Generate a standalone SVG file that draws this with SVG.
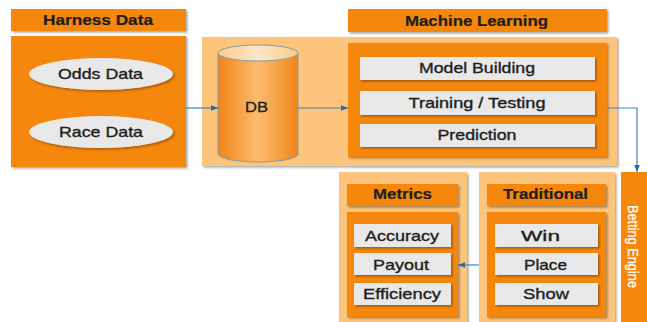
<svg xmlns="http://www.w3.org/2000/svg" width="647" height="322" viewBox="0 0 647 322">
<defs>
<style>
text{font-family:"Liberation Sans",Arial,sans-serif;font-size:15px;fill:#1e1e1e;stroke:#1e1e1e;stroke-width:0.35;text-anchor:middle}
.hd{font-weight:bold;stroke-width:0.2}
.org{fill:#F5870C}
.lt{fill:#FDC57C}
.gr{fill:#E8E8E8}
.sh{filter:url(#ds)}
.con{fill:none;stroke:#3A89B5;stroke-width:1.2}
text.wt{fill:#ffffff;stroke:#ffffff;stroke-width:0.25}
</style>
<filter id="ds" x="-10%" y="-10%" width="130%" height="140%">
<feDropShadow dx="1.5" dy="1.5" stdDeviation="0.8" flood-color="#000" flood-opacity="0.35"/>
</filter>
<linearGradient id="cyl" x1="0" y1="0" x2="1" y2="0">
<stop offset="0" stop-color="#F08518"/>
<stop offset="0.5" stop-color="#FBBB70"/>
<stop offset="1" stop-color="#F08518"/>
</linearGradient>
<linearGradient id="cyltop" x1="0" y1="0" x2="1" y2="0">
<stop offset="0" stop-color="#FBC98A"/>
<stop offset="0.5" stop-color="#FEE6C8"/>
<stop offset="1" stop-color="#FBC98A"/>
</linearGradient>
<marker id="ah" viewBox="0 0 10 10" refX="10" refY="5" markerWidth="7" markerHeight="7" orient="auto" markerUnits="userSpaceOnUse">
<path d="M0,1 L10,5 L0,9 z" fill="#1F6FA0"/>
</marker>
</defs>
<rect width="647" height="322" fill="#ffffff"/>

<g id="harness">
<rect class="org sh" x="11" y="9" width="175" height="22"/>
<text class="hd" x="98" y="25" textLength="110" lengthAdjust="spacingAndGlyphs">Harness Data</text>
<rect class="org sh" x="11" y="36" width="175" height="131"/>
<g id="odds">
<ellipse class="gr sh" cx="101" cy="74" rx="72" ry="16"/>
<text x="100.5" y="79" textLength="85" lengthAdjust="spacingAndGlyphs">Odds Data</text>
</g>
<g id="race">
<ellipse class="gr sh" cx="101" cy="132" rx="72" ry="16"/>
<text x="101" y="137" textLength="84" lengthAdjust="spacingAndGlyphs">Race Data</text>
</g>
</g>

<g id="ml-panel">
<rect class="lt sh" x="202" y="37" width="415" height="129"/>
</g>

<g id="db">
<path d="M218,53 L218,154 A40,8 0 0 0 298,154 L298,53" fill="url(#cyl)" stroke="#7E9EAC" stroke-width="1"/>
<ellipse cx="258" cy="53" rx="40" ry="8" fill="url(#cyltop)" stroke="#7E9EAC" stroke-width="1"/>
<text x="256.5" y="112" textLength="23" lengthAdjust="spacingAndGlyphs">DB</text>
</g>

<g id="ml">
<rect class="org sh" x="348" y="9" width="259" height="23"/>
<text class="hd" x="476.5" y="26" textLength="143" lengthAdjust="spacingAndGlyphs">Machine Learning</text>
<rect class="org sh" x="348" y="43" width="259" height="114"/>
<g id="model-building">
<rect class="gr sh" x="360" y="57" width="235" height="23"/>
<text x="477" y="73" textLength="116" lengthAdjust="spacingAndGlyphs">Model Building</text>
</g>
<g id="training">
<rect class="gr sh" x="360" y="91" width="235" height="24"/>
<text x="477" y="108" textLength="137" lengthAdjust="spacingAndGlyphs">Training / Testing</text>
</g>
<g id="prediction">
<rect class="gr sh" x="360" y="124" width="235" height="23"/>
<text x="477" y="140" textLength="79" lengthAdjust="spacingAndGlyphs">Prediction</text>
</g>
</g>

<g id="metrics">
<rect class="lt sh" x="339" y="172" width="128" height="152"/>
<rect class="org sh" x="347" y="184" width="111" height="22"/>
<text class="hd" x="402.5" y="199" textLength="59" lengthAdjust="spacingAndGlyphs">Metrics</text>
<rect class="org sh" x="347" y="212" width="111" height="105"/>
<g id="accuracy">
<rect class="gr sh" x="354" y="224" width="97" height="23"/>
<text x="402" y="241" textLength="74" lengthAdjust="spacingAndGlyphs">Accuracy</text>
</g>
<g id="payout">
<rect class="gr sh" x="354" y="253" width="97" height="22"/>
<text x="401" y="270" textLength="56" lengthAdjust="spacingAndGlyphs">Payout</text>
</g>
<g id="efficiency">
<rect class="gr sh" x="354" y="283" width="97" height="22"/>
<text x="402" y="299" textLength="78" lengthAdjust="spacingAndGlyphs">Efficiency</text>
</g>
</g>

<g id="traditional">
<rect class="lt sh" x="479" y="172" width="136" height="152"/>
<rect class="org sh" x="487" y="184" width="119" height="22"/>
<text class="hd" x="545.5" y="199" textLength="85" lengthAdjust="spacingAndGlyphs">Traditional</text>
<rect class="org sh" x="487" y="212" width="119" height="105"/>
<g id="win">
<rect class="gr sh" x="495" y="224" width="103" height="23"/>
<text x="540.5" y="241" textLength="39" lengthAdjust="spacingAndGlyphs">Win</text>
</g>
<g id="place">
<rect class="gr sh" x="495" y="253" width="103" height="22"/>
<text x="545.5" y="270" textLength="43" lengthAdjust="spacingAndGlyphs">Place</text>
</g>
<g id="show">
<rect class="gr sh" x="495" y="283" width="103" height="22"/>
<text x="546" y="299" textLength="46" lengthAdjust="spacingAndGlyphs">Show</text>
</g>
</g>

<g id="betting-engine">
<rect class="org" x="621" y="172" width="30" height="152"/>
<text class="wt" transform="translate(628,246.5) rotate(90)" textLength="83" lengthAdjust="spacingAndGlyphs" style="font-size:14px">Betting Engine</text>
</g>

<g id="connectors">
<path class="con" d="M186,108 L218,108" marker-end="url(#ah)"/>
<path class="con" d="M298,108 L348,108" marker-end="url(#ah)"/>
<path class="con" d="M607,108 L637,108 L637,172" marker-end="url(#ah)"/>
<path class="con" d="M479,265 L458,265" marker-end="url(#ah)"/>
</g>
</svg>
